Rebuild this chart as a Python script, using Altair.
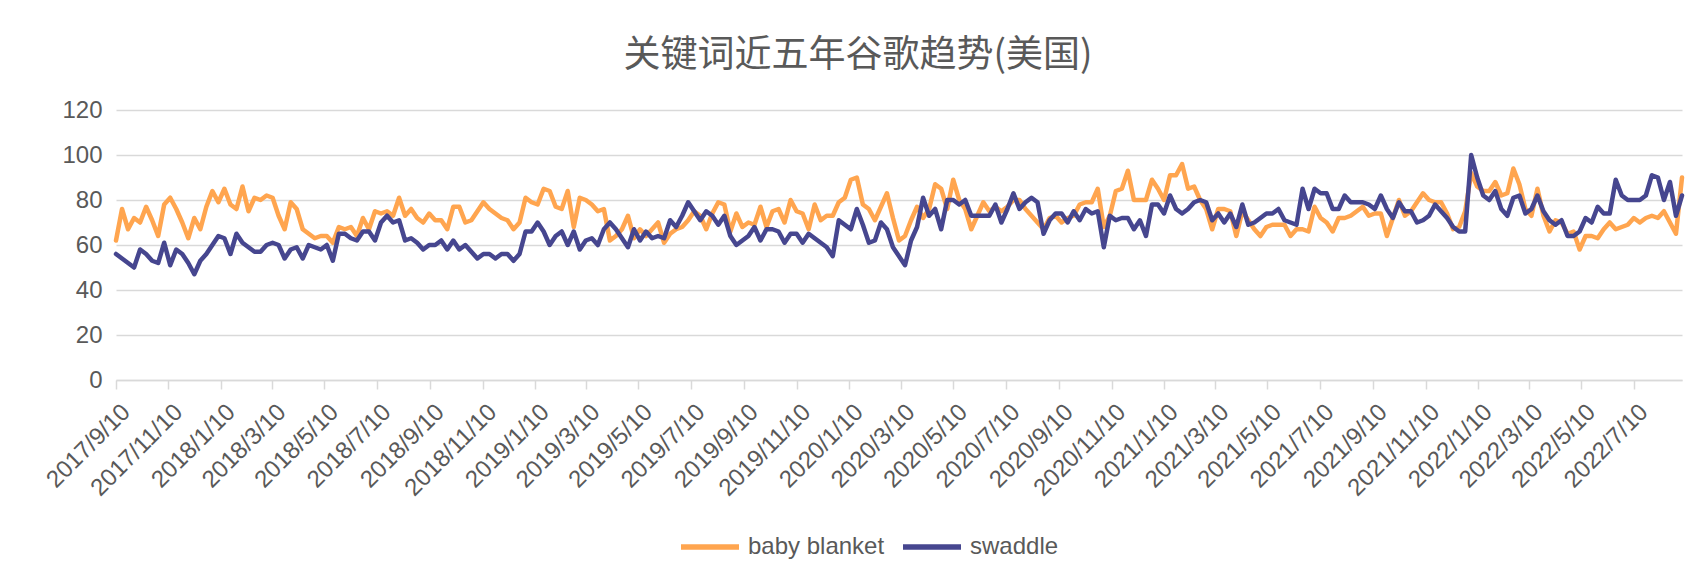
import altair as alt
import pandas as pd

start_date = "2017-09-10"
series_names = ["baby blanket", "swaddle"]
series_colors = ["#FFA54F", "#46468F"]

baby_blanket = [
    62, 76, 67, 72, 70, 77, 71, 64, 78, 81, 76, 70, 63, 72, 67, 77, 84, 79, 85, 78, 76, 86, 75, 81, 80, 82, 81, 73, 67, 79, 76, 67, 65,
    63, 64, 64, 61, 68, 67, 68, 64, 72, 67, 75, 74, 75, 73, 81, 73, 76, 72, 70, 74, 71, 71, 67, 77, 77, 70, 71, 75, 79, 76, 74, 72,
    71, 67, 70, 81, 79, 78, 85, 84, 77, 76, 84, 68, 81, 80, 78, 75, 76, 62, 64, 67, 73, 63, 67, 64, 67, 70, 61, 65, 67, 68, 71, 75, 73,
    67, 74, 79, 78, 66, 74, 68, 70, 69, 77, 68, 75, 76, 70, 80, 75, 74, 67, 78, 71, 73, 73, 79, 81, 89, 90, 78, 76, 71, 77, 83, 72,
    62, 64, 71, 77, 72, 76, 87, 85, 76, 89, 80, 76, 67, 73, 79, 75, 77, 75, 77, 80, 80, 76, 73, 70, 67, 72, 73, 70, 72, 73, 78, 79,
    79, 85, 68, 73, 84, 85, 93, 80, 80, 80, 89, 85, 80, 91, 91, 96, 85, 86, 80, 76, 67, 76, 76, 75, 64, 75, 71, 67, 64, 68, 69, 69, 69,
    64, 67, 67, 66, 77, 72, 70, 66, 72, 72, 73, 75, 77, 73, 74, 74, 64, 72, 80, 73, 75, 79, 83, 80, 79, 79, 74, 67, 68, 75, 92, 86,
    84, 84, 88, 82, 83, 94, 87, 76, 73, 85, 73, 66, 71, 70, 65, 66, 58, 64, 64, 63, 67, 70, 67, 68, 69, 72, 70, 72, 73, 72, 75, 70, 65, 90,
]

swaddle = [
    56, 54, 52, 50, 58, 56, 53, 52, 61, 51, 58, 56, 52, 47, 53, 56, 60, 64, 63, 56, 65, 61, 59, 57, 57, 60, 61, 60, 54, 58, 59, 54, 60,
    59, 58, 60, 53, 65, 65, 63, 62, 66, 66, 62, 70, 73, 70, 71, 62, 63, 61, 58, 60, 60, 62, 58, 62, 58, 60, 57, 54, 56, 56, 54, 56,
    56, 53, 56, 66, 66, 70, 66, 60, 64, 66, 60, 66, 58, 62, 63, 60, 67, 70, 67, 63, 59, 67, 62, 66, 63, 64, 63, 71, 68, 73, 79, 75, 71,
    75, 73, 69, 73, 64, 60, 62, 64, 68, 62, 67, 67, 66, 61, 65, 65, 61, 65, 63, 61, 59, 55, 71, 69, 67, 76, 69, 61, 62, 70, 67, 59,
    55, 51, 62, 68, 81, 73, 76, 67, 80, 80, 78, 80, 73, 73, 73, 73, 78, 70, 76, 83, 76, 79, 81, 79, 65, 71, 74, 74, 70, 75, 71, 76,
    74, 75, 59, 73, 71, 72, 72, 67, 71, 64, 78, 78, 74, 82, 76, 74, 76, 79, 80, 79, 71, 74, 70, 74, 68, 78, 69, 70, 72, 74, 74, 76, 71,
    70, 69, 85, 76, 85, 83, 83, 76, 76, 82, 79, 79, 79, 78, 76, 82, 76, 72, 79, 75, 75, 70, 71, 73, 78, 75, 72, 68, 66, 66, 100, 90,
    82, 80, 84, 76, 73, 81, 82, 74, 76, 82, 75, 71, 69, 71, 64, 64, 66, 72, 70, 77, 74, 74, 89, 82, 80, 80, 80, 82, 91, 90, 80, 88, 73, 82,
]

# x-axis tick dates (year, month, day)
tick_dates = [(2017, 9, 10), (2017, 11, 10)] + [
    (y, m, 10) for y in (2018, 2019, 2020, 2021) for m in (1, 3, 5, 7, 9, 11)
] + [(2022, 1, 10), (2022, 3, 10), (2022, 5, 10), (2022, 7, 10)]

y_ticks = [0, 20, 40, 60, 80, 100, 120]

rows = []
for name, vals in zip(series_names, [baby_blanket, swaddle]):
    dts = pd.date_range(start_date, periods=len(vals), freq="7D")
    for d, v in zip(dts, vals):
        rows.append({"date": d.strftime("%Y/%m/%d"), "value": v, "series": name})
df = pd.DataFrame(rows)
last_date = pd.date_range(start_date, periods=len(baby_blanket), freq="7D")[-1]

FONT = "Liberation Sans"
GREY = "#595959"

x_enc = alt.X(
    "date:T",
    scale=alt.Scale(
        domain=[
            alt.DateTime(year=2017, month=9, date=10),
            alt.DateTime(year=last_date.year, month=last_date.month, date=last_date.day),
        ],
        nice=False,
    ),
    axis=alt.Axis(
        values=[alt.DateTime(year=y, month=m, date=d) for (y, m, d) in tick_dates],
        format="%Y/%-m/%-d",
        labelAngle=-45,
        labelAlign="right",
        labelBaseline="middle",
        labelFont=FONT,
        labelFontSize=24,
        labelColor=GREY,
        labelOverlap=False,
        labelFlush=False,
        labelBound=False,
        labelPadding=19,
        labelOffset=10,
        tickColor="#d9d9d9",
        tickSize=9,
        tickWidth=1.5,
        domainColor="#d9d9d9",
        domainWidth=1.5,
        grid=False,
        title=None,
    ),
)
y_enc = alt.Y(
    "value:Q",
    scale=alt.Scale(domain=[0, 120], nice=False),
    axis=alt.Axis(
        values=y_ticks,
        grid=True,
        gridColor="#d9d9d9",
        gridWidth=1.5,
        domain=False,
        ticks=False,
        labelFont=FONT,
        labelFontSize=24,
        labelColor=GREY,
        labelPadding=14,
        title=None,
    ),
)
color_enc = alt.Color(
    "series:N",
    scale=alt.Scale(domain=series_names, range=series_colors),
    legend=alt.Legend(
        orient="none",
        legendX=562,
        legendY=405,
        direction="horizontal",
        title=None,
        symbolType="stroke",
        symbolSize=3364,
        symbolStrokeWidth=5.5,
        labelFont=FONT,
        labelFontSize=24,
        labelColor=GREY,
        labelOffset=6,
        columnPadding=7,
    ),
)

layers = []
for name in series_names:
    layers.append(
        alt.Chart(df)
        .transform_filter(alt.datum.series == name)
        .mark_line(strokeWidth=4.5, strokeJoin="round", strokeCap="round")
        .encode(x=x_enc, y=y_enc, color=color_enc)
    )

chart = (
    alt.layer(*layers)
    .properties(
        width=1566,
        height=270,
        padding={"left": 108, "top": 102, "right": 18, "bottom": 192},
        autosize=alt.AutoSizeParams(type="none"),
        background="white",
        title=alt.Title(
            "关键词近五年谷歌趋势(美国)",
            font="Noto Sans CJK SC",
            fontSize=37,
            fontWeight="normal",
            color=GREY,
            anchor="middle",
            dx=-41,
            offset=23,
        ),
    )
    .configure_view(stroke=None)
)

chart.save("out.html", embed_options={"renderer": "svg", "actions": False})
